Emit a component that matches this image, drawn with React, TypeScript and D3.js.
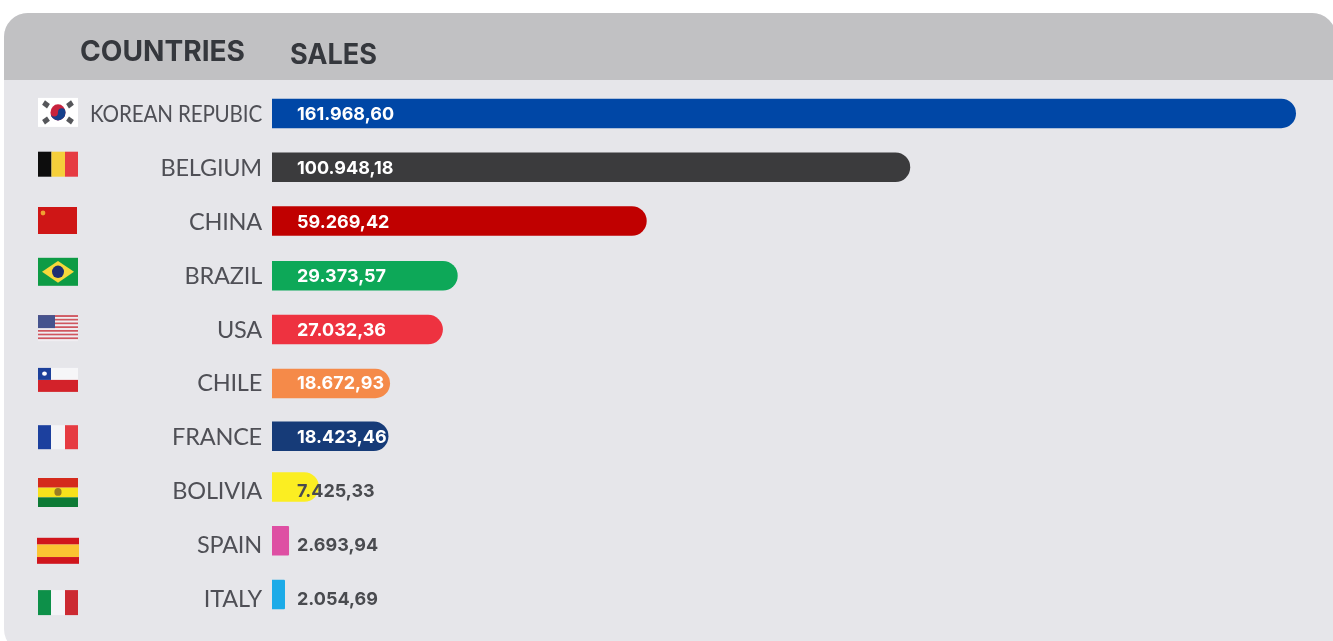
import React, { useEffect, useRef } from 'react';
import * as d3 from 'd3';

const countries = ['KOREAN REPUBIC', 'BELGIUM', 'CHINA', 'BRAZIL', 'USA', 'CHILE', 'FRANCE', 'BOLIVIA', 'SPAIN', 'ITALY'];
const sales = [161968.6, 100948.18, 59269.42, 29373.57, 27032.36, 18672.93, 18423.46, 7425.33, 2693.94, 2054.69];
const barColors = ['#0047a6', '#3a3a3c', '#c00000', '#0aa858', '#ee3340', '#f58a49', '#133a78', '#fbee22', '#de4fa3', '#1dabe8'];
const flagKeys = ['kr', 'be', 'cn', 'br', 'us', 'cl', 'fr', 'bo', 'es', 'it'];
// flags and the last bars don't sit exactly on the rows in the picture
const flagNudge = [-1, -3, -0.5, -3, -0.5, -2.5, 1, 2.5, 7, 5];
const flagHeights = [29, 25, 27, 28, 26, 24, 24, 29, 26, 25];
const barNudge = [0, 0, 0, 1, 1, 1, 0, -3, -3, -3];

const WIDTH = 1333;
const HEIGHT = 641;

const locale = d3.formatLocale({ decimal: ',', thousands: '.', grouping: [3], currency: ['', ''] });
const fmt = locale.format(',.2f');

// flag drawn in a 40x27 box, origin top-left
const drawFlag = (g: any, key: string) => {
    const r = (x: number, y: number, w: number, h: number, fill: string) => g.append('rect')
        .attr('x', x).attr('y', y).attr('width', w).attr('height', h).attr('fill', fill);

    if (key === 'kr') {
        r(0, 0, 40, 27, '#ffffff');
        g.append('circle').attr('cx', 20).attr('cy', 13.5).attr('r', 7.5).attr('fill', '#c8213c');
        g.append('path').attr('d', 'M12.5 13.5 A7.5 7.5 0 0 0 27.5 13.5 A3.75 3.75 0 0 0 20 13.5 A3.75 3.75 0 0 1 12.5 13.5 Z').attr('fill', '#173f8c');
        [[8, 6, 35], [32, 6, -35], [8, 21, -35], [32, 21, 35]].forEach(([x, y, a]) => {
            g.append('rect').attr('x', x - 3).attr('y', y - 2.5).attr('width', 6).attr('height', 5)
                .attr('fill', '#55565a').attr('transform', `rotate(${a} ${x} ${y})`);
        });
    } else if (key === 'be') {
        r(0, 0, 13.5, 27, '#0c0c0e');
        r(13.5, 0, 13.5, 27, '#f5cf3a');
        r(27, 0, 13, 27, '#e63a42');
    } else if (key === 'cn') {
        r(0, 0, 39, 27, '#cf1217');
        g.append('circle').attr('cx', 5).attr('cy', 6).attr('r', 2.4).attr('fill', '#f0a030');
    } else if (key === 'br') {
        r(0, 0, 40, 27, '#0f9b45');
        g.append('path').attr('d', 'M20 3 L36 13.5 L20 24 L4 13.5 Z').attr('fill', '#f5d83a');
        g.append('circle').attr('cx', 20).attr('cy', 13.5).attr('r', 6).attr('fill', '#1d2f72');
    } else if (key === 'us') {
        d3.range(7).forEach((i) => {
            r(0, i * 3.86, 40, 1.95, '#d0565f');
            r(0, i * 3.86 + 1.95, 40, 1.91, '#f0eef2');
        });
        r(0, 0, 17, 13.5, '#44538e');
    } else if (key === 'cl') {
        r(0, 0, 40, 13.5, '#f6f6f8');
        r(0, 13.5, 40, 13.5, '#d3242c');
        r(0, 0, 13, 13.5, '#1d3f9a');
        g.append('circle').attr('cx', 6.5).attr('cy', 6.5).attr('r', 2.4).attr('fill', '#ffffff');
    } else if (key === 'fr') {
        r(0, 0, 13, 27, '#1c3f9e');
        r(13, 0, 14, 27, '#f4f4f7');
        r(27, 0, 13, 27, '#e63a42');
    } else if (key === 'bo') {
        r(0, 0, 40, 9, '#d42a1e');
        r(0, 9, 40, 9, '#f7e11e');
        r(0, 18, 40, 9, '#0f7a35');
        g.append('circle').attr('cx', 20).attr('cy', 13).attr('r', 3.6).attr('fill', '#9a7b22');
    } else if (key === 'es') {
        r(-1, 0, 42, 7, '#d0121f');
        r(-1, 7, 42, 13, '#fbc430');
        r(-1, 20, 42, 7, '#d0121f');
    } else if (key === 'it') {
        r(0, 0, 13, 27, '#119048');
        r(13, 0, 14, 27, '#f4f4f7');
        r(27, 0, 13, 27, '#cc2a32');
    }
};

const App = () => {
    const ref = useRef<SVGSVGElement>(null);

    useEffect(() => {
        const svg = d3.select(ref.current);
        svg.selectAll('*').remove();

        const x = d3.scaleLinear().domain([0, 161968.6]).range([272, 1296]);
        const y = d3.scaleBand().domain(countries).range([86.5, 624.5]);
        const barH = 29.5;

        // the reference is a soft, upscaled image
        svg.append('defs').append('filter').attr('id', 'soft')
            .append('feGaussianBlur').attr('stdDeviation', 0.7);

        const root = svg.append('g').attr('filter', 'url(#soft)');

        root.append('rect')
            .attr('x', 4).attr('y', 13).attr('width', 1332).attr('height', 640).attr('rx', 24)
            .attr('fill', '#e6e6ea');

        root.append('path')
            .attr('d', 'M4 80 V37 A24 24 0 0 1 28 13 H1312 A24 24 0 0 1 1336 37 V80 Z')
            .attr('fill', '#c1c1c3');

        const headFont = 'Inter, sans-serif';
        root.append('text').attr('x', 80).attr('y', 61).text('COUNTRIES')
            .attr('textLength', 165).attr('lengthAdjust', 'spacingAndGlyphs')
            .style('font-family', headFont).style('font-size', '28px').style('font-weight', 700).attr('fill', '#36373c');
        root.append('text').attr('x', 290).attr('y', 64).text('SALES')
            .attr('textLength', 87).attr('lengthAdjust', 'spacingAndGlyphs')
            .style('font-family', headFont).style('font-size', '28px').style('font-weight', 700).attr('fill', '#36373c');

        const rows = root.selectAll('g.row')
            .data(countries)
            .join('g')
            .attr('class', 'row')
            .attr('transform', (d) => `translate(0,${(y(d) as number) + y.bandwidth() / 2})`);

        rows.append('text')
            .attr('x', 262)
            .attr('y', 9)
            .attr('text-anchor', 'end')
            .attr('textLength', (d) => (d.length > 10 ? 172 : null))
            .attr('lengthAdjust', 'spacingAndGlyphs')
            .style('font-family', 'Lato, sans-serif')
            .style('font-size', '23.5px')
            .style('letter-spacing', '-0.2px')
            .attr('fill', '#4f5056')
            .text((d) => d);

        rows.append('path')
            .attr('fill', (_, i) => barColors[i])
            .attr('transform', (_, i) => `translate(0,${barNudge[i]})`)
            .attr('d', (_, i) => {
                const w = x(sales[i]) - x(0);
                const rad = w > 25 ? barH / 2 : 1;
                const p = d3.path();
                p.moveTo(x(0), -barH / 2);
                p.lineTo(x(0) + w - rad, -barH / 2);
                p.arcTo(x(0) + w, -barH / 2, x(0) + w, 0, rad);
                p.arcTo(x(0) + w, barH / 2, x(0) + w - rad, barH / 2, rad);
                p.lineTo(x(0), barH / 2);
                p.closePath();
                return p.toString();
            });

        rows.append('text')
            .attr('x', 297)
            .attr('y', 7)
            .style('font-family', 'Inter, sans-serif')
            .style('font-size', '18px')
            .style('font-weight', 700)
            .attr('fill', (_, i) => (i > 6 ? '#4a4b50' : '#ffffff'))
            .text((_, i) => fmt(sales[i]));

        rows.append('g')
            .attr('transform', (_, i) => `translate(38,${flagNudge[i] - flagHeights[i] / 2}) scale(1,${flagHeights[i] / 27})`)
            .each(function (_, i) {
                drawFlag(d3.select(this), flagKeys[i]);
            });
    }, []);

    return (
        <svg
            ref={ref}
            width={WIDTH}
            height={HEIGHT}
            style={{ position: 'absolute', left: 0, top: 0, display: 'block', background: '#ffffff' }}
        />
    );
};

export default App;
